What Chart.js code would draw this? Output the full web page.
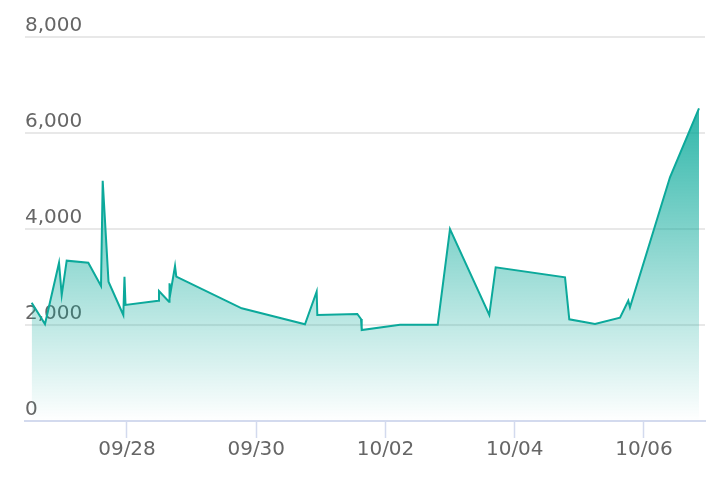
<!DOCTYPE html>
<html>
<head>
<meta charset="utf-8">
<script src="https://cdn.jsdelivr.net/npm/chart.js@4.4.1/dist/chart.umd.min.js"></script>
<style>
  html, body { margin: 0; padding: 0; background: #fff; }
  #wrap { width: 722px; height: 482px; }
</style>
</head>
<body>
<div id="wrap"><canvas id="chart"></canvas></div>
<script>
// time in days since 09/26 00:00
const times = [
  0.525, 0.731, 0.948, 0.990, 1.067, 1.401, 1.598, 1.624, 1.714, 1.943,
  1.961, 1.977, 2.484, 2.495, 2.650, 2.658, 2.676, 2.743, 2.763, 3.775,
  4.754, 4.935, 4.945, 5.564, 5.621, 5.632, 6.224, 6.808, 6.998, 7.606,
  7.705, 8.778, 8.844, 9.242, 9.629, 9.757, 9.783, 10.402, 10.851
];
const values = [
  2465, 2020, 3298, 2625, 3340, 3298, 2812, 5006, 2902, 2208,
  3006, 2417, 2506, 2708, 2486, 2868, 2694, 3229, 3006, 2347,
  2014, 2694, 2208, 2229, 2125, 1896, 2006, 2006, 4000, 2208,
  3202, 2994, 2119, 2021, 2152, 2506, 2369, 5077, 6515
];
const tickDays = [2, 4, 6, 8, 10];
const tickLabels = ['09/28', '09/30', '10/02', '10/04', '10/06'];

const font = { family: "'DejaVu Sans', sans-serif", size: 20 };

const makeChart = function() {
  const ctx = document.getElementById('chart').getContext('2d');

  const data = {
    datasets: [{
      data: times.map((t, i) => ({ x: t, y: values[i] })),
      borderColor: '#0ca99b',
      borderWidth: 2,
      pointRadius: 0,
      tension: 0,
      fill: 'origin',
      backgroundColor: (c) => {
        const area = c.chart.chartArea;
        if (!area) return 'rgba(0,166,150,0.3)';
        const g = c.chart.ctx.createLinearGradient(0, area.top, 0, area.bottom);
        g.addColorStop(0, 'rgba(0,166,150,1)');
        g.addColorStop(1, 'rgba(0,166,150,0)');
        return g;
      }
    }]
  };

  const options = {
    responsive: true,
    maintainAspectRatio: false,
    animation: false,
    layout: { padding: { left: 25, right: 17, top: 37, bottom: 20 } },
    plugins: { legend: { display: false }, tooltip: { enabled: false } },
    scales: {
      x: {
        type: 'linear',
        min: 0.4217,
        max: 10.944,
        afterBuildTicks: (s) => { s.ticks = tickDays.map(v => ({ value: v })); },
        grid: {
          drawOnChartArea: false,
          drawTicks: true,
          tickLength: 17,
          tickWidth: 1.5,
          tickColor: '#d3daee'
        },
        border: { display: true, color: '#d3daee', width: 2 },
        ticks: {
          padding: 0,
          color: '#666',
          font: font,
          maxRotation: 0,
          callback: (v) => tickLabels[tickDays.indexOf(v)]
        }
      },
      y: {
        min: 0,
        max: 8000,
        grid: { drawTicks: false, color: '#e8e8e8', lineWidth: 2 },
        border: { display: false },
        ticks: {
          stepSize: 2000,
          mirror: true,
          padding: 0,
          labelOffset: -11,
          color: '#666',
          font: font,
          callback: (v) => v.toLocaleString('en-US')
        }
      }
    }
  };

  new Chart(ctx, { type: 'line', data: data, options: options });
};

window.addEventListener('load', () => { makeChart(); });
</script>
</body>
</html>
